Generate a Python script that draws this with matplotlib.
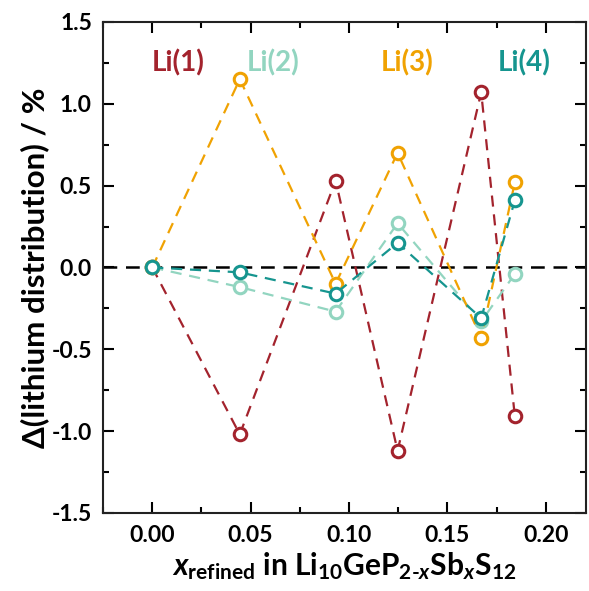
import matplotlib
matplotlib.use("Agg")
import matplotlib.pyplot as plt
from matplotlib.ticker import MultipleLocator, FormatStrFormatter

plt.rcParams['font.family'] = ['Lato', 'DejaVu Sans']
plt.rcParams['font.weight'] = 'bold'
plt.rcParams['mathtext.fontset'] = 'custom'
plt.rcParams['mathtext.rm'] = 'Lato:bold'
plt.rcParams['mathtext.it'] = 'Lato:bold:italic'
plt.rcParams['mathtext.bf'] = 'Lato:bold'

# x refined values and change in lithium distribution (%)
x_refined = [0.0, 0.0445, 0.0932, 0.1247, 0.1672, 0.1843]
li1 = [0.0, -1.02, 0.53, -1.12, 1.07, -0.91]
li2 = [0.0, -0.12, -0.27, 0.27, -0.33, -0.04]
li3 = [0.0, 1.15, -0.10, 0.70, -0.43, 0.52]
li4 = [0.0, -0.03, -0.16, 0.15, -0.31, 0.41]

names = ['Li(1)', 'Li(2)', 'Li(3)', 'Li(4)']
colors = ['#a3232d', '#92d5c0', '#f0a202', '#16958f']
label_x = [0.0133, 0.0612, 0.1296, 0.1888]

fig = plt.figure(figsize=(5.89, 5.91), dpi=100)
ax = fig.add_axes([0.175, 0.132, 0.82, 0.831])

ax.axhline(0, color='black', lw=1.8, dashes=(5.5, 3.5), zorder=1)

for vals, c in zip([li1, li2, li3, li4], colors):
    ax.plot(x_refined, vals, color=c, lw=1.6, dashes=(5, 3.5),
            marker='o', ms=9, mfc='white', mec=c, mew=2.2, zorder=3)

for name, c, lx in zip(names, colors, label_x):
    ax.text(lx, 1.25, name, color=c, fontsize=20, fontweight='bold',
            ha='center', va='center')

ax.set_xlim(-0.025, 0.2205)
ax.set_ylim(-1.5, 1.5)
ax.xaxis.set_major_locator(MultipleLocator(0.05))
ax.xaxis.set_minor_locator(MultipleLocator(0.025))
ax.yaxis.set_major_locator(MultipleLocator(0.5))
ax.yaxis.set_minor_locator(MultipleLocator(0.25))
ax.xaxis.set_major_formatter(FormatStrFormatter('%.2f'))
ax.yaxis.set_major_formatter(FormatStrFormatter('%.1f'))

ax.tick_params(which='both', direction='in', top=True, right=True,
               labelsize=16.5, width=1.5)
ax.tick_params(axis='x', pad=9)
ax.tick_params(axis='y', pad=8)
ax.tick_params(which='major', length=8)
ax.tick_params(which='minor', length=4.5)
for s in ax.spines.values():
    s.set_linewidth(1.5)
    s.set_color('#222222')

ax.set_ylabel('\u0394(lithium distribution) / %', fontsize=22.5, fontweight='bold', labelpad=2)
ax.set_xlabel(r'$x_{\mathrm{refined}}$ in Li$_{\mathrm{10}}$GeP$_{\mathrm{2\text{-}}x}$Sb$_{x}$S$_{\mathrm{12}}$',
              fontsize=21.5, fontweight='bold', labelpad=3)

fig.savefig('out.png', dpi=100)
